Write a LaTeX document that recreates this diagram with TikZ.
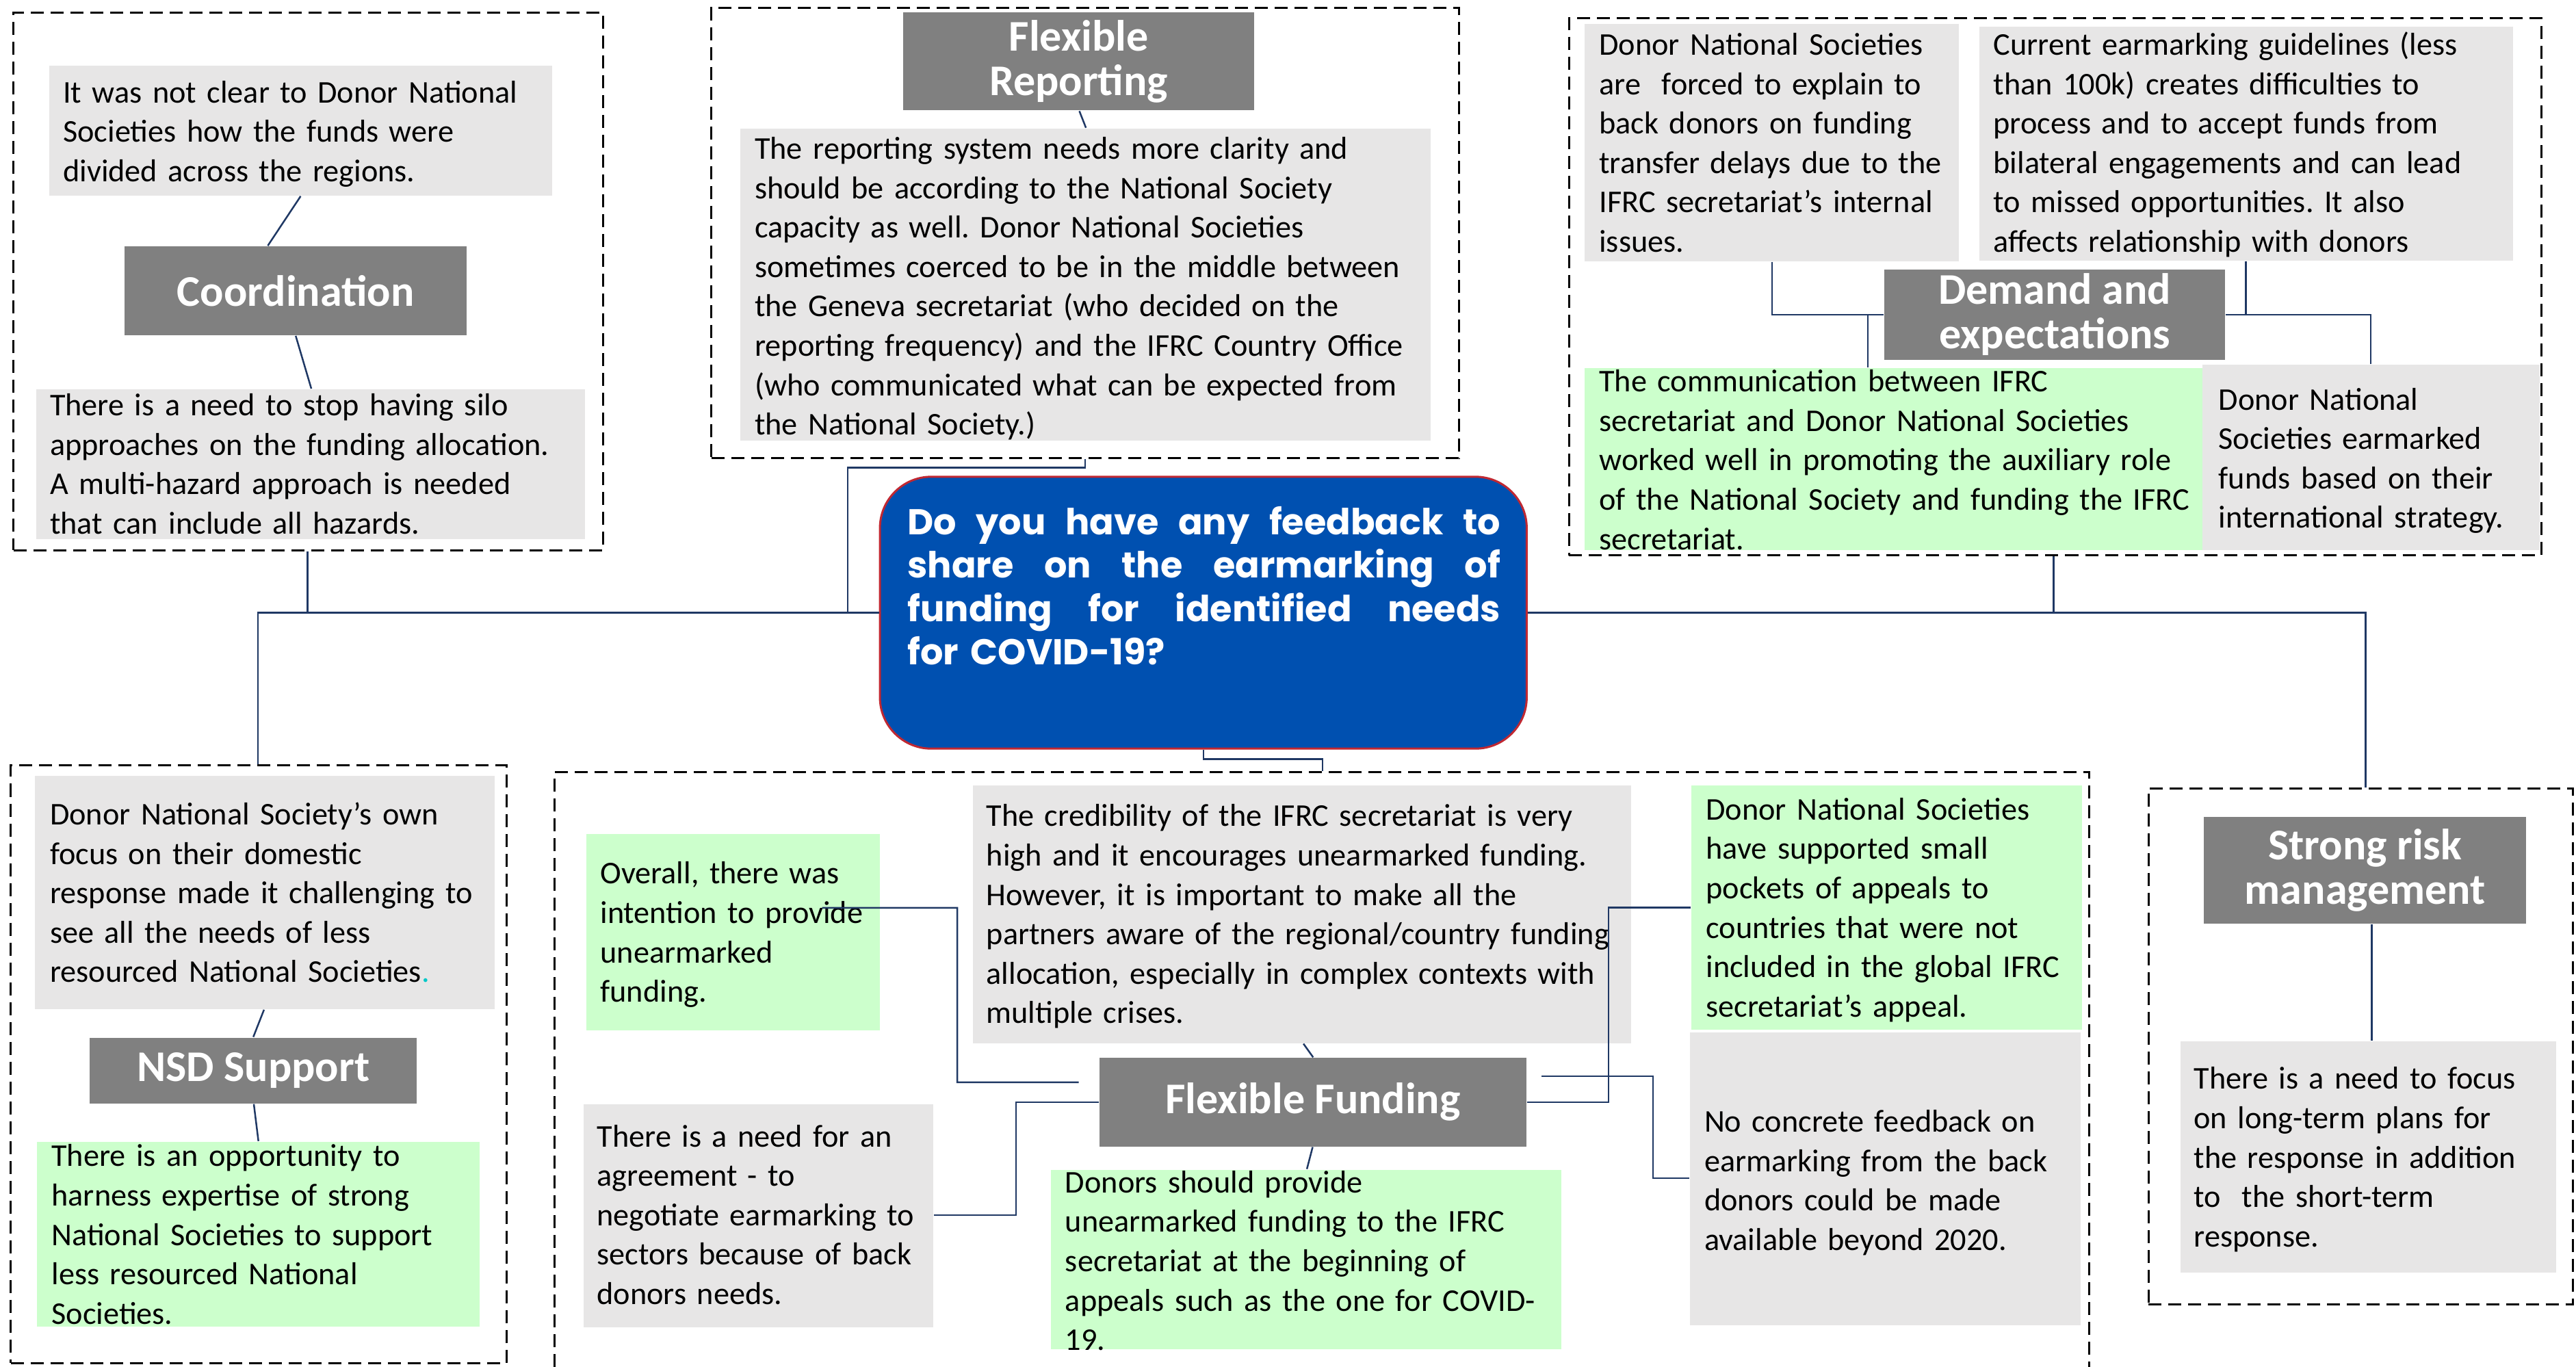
\documentclass[tikz,border=0pt]{standalone}
\usepackage{fontspec}
\setmainfont{Carlito}
\newfontfamily\titlefont{Poppins}
\usetikzlibrary{fit}
\definecolor{gbg}{RGB}{231,230,230}
\definecolor{grn}{RGB}{204,255,204}
\definecolor{hdr}{RGB}{128,128,128}
\definecolor{blu}{RGB}{0,80,176}
\definecolor{redb}{RGB}{192,40,50}
\definecolor{navy}{RGB}{31,56,100}
\definecolor{cyn}{RGB}{0,200,200}
\frenchspacing
\newcommand\bodyfont{\fontsize{9.25pt}{11.52pt}\selectfont\frenchspacing}
\newcommand\hdfont{\fontsize{12.8pt}{12.96pt}\selectfont\bfseries}
\newcommand\ttlfont{\titlefont\bfseries\fontsize{10.5pt}{12.62pt}\selectfont}
\newcommand\tl[1]{\leavevmode\hbox to 173.28pt{\spaceskip=0.25em plus 1fil\relax #1}}
\begin{document}
\begin{tikzpicture}[x=0.48pt,y=-0.48pt,
  grp/.style={draw=black,line width=0.6pt,dash pattern=on 3.8pt off 2pt},
  gbox/.style={fill=gbg,draw=none,inner sep=0pt},
  gnbox/.style={fill=grn,draw=none,inner sep=0pt},
  hbox/.style={fill=hdr,draw=none,inner sep=0pt},
  htxt/.style={inner sep=0pt,text=white,font=\hdfont,align=center},
  txt/.style={inner sep=0pt,font=\bodyfont,text width=230pt,align=left,anchor=base west},
  conn/.style={draw=navy,line width=0.5pt}]
\useasboundingbox (0,0) rectangle (1568,831.7);
\fill[white] (0,0) rectangle (1568,831.7);

% ---------- dashed groups
\node[grp,fit={(8.2,7.7) (367.3,335)},inner sep=0pt] (dC) {};
\node[grp,fit={(433,4.6) (888,279)},inner sep=0pt] (dR) {};
\node[grp,fit={(955,10.9) (1547,338)},inner sep=0pt] (dD) {};
\node[grp,fit={(6.5,466) (308.5,829.7)},inner sep=0pt] (dN) {};
\node[grp,fit={(337.5,469.8) (1271.6,845)},inner sep=0pt] (dF) {};
\node[grp,fit={(1307.8,479.8) (1566,793.9)},inner sep=0pt] (dS) {};

% ---------- Coordination
\node[gbox,fit={(30,40) (336,119)}] (cA) {};
\node[txt] (cAt) at (38,62.5) {It was not clear to Donor National\\Societies how the funds were\\divided across the regions.};
\node[hbox,fit={(76,150) (284,204)}] (cH) {};
\node[htxt] (cHt) at (cH.center) {Coordination};
\node[gbox,fit={(22,237) (356,328)}] (cB) {};
\node[txt] (cBt) at (30,253) {There is a need to stop having silo\\approaches on the funding allocation.\\A multi-hazard approach is needed\\that can include all hazards.};

% ---------- Flexible Reporting
\node[hbox,fit={(549.8,7.6) (763.4,67.2)}] (rH) {};
\node[htxt] (rHt) at (rH.center) {Flexible\\Reporting};
\node[gbox,fit={(450.6,78.2) (871,268)}] (rT) {};
\node[txt] (rTt) at (459,96.8) {The reporting system needs more clarity and\\should be according to the National Society\\capacity as well. Donor National Societies\\sometimes coerced to be in the middle between\\the Geneva secretariat (who decided on the\\reporting frequency) and the IFRC Country Office\\(who communicated what can be expected from\\the National Society.)};

% ---------- Demand and expectations
\node[gbox,fit={(964.6,14.6) (1192.4,159)}] (dA) {};
\node[txt] (dAt) at (973,33.5) {Donor National Societies\\are\ \ forced to explain to\\back donors on funding\\transfer delays due to the\\IFRC secretariat’s internal\\issues.};
\node[gbox,fit={(1204.7,16.4) (1529.8,158.5)}] (dB) {};
\node[txt] (dBt) at (1213,33.5) {Current earmarking guidelines (less\\than 100k) creates difficulties to\\process and to accept funds from\\bilateral engagements and can lead\\to missed opportunities. It also\\affects relationship with donors};
\node[hbox,fit={(1147,164) (1354.5,219)}] (dH) {};
\node[htxt] (dHt) at (dH.center) {Demand and\\expectations};
\node[gnbox,fit={(964.6,224) (1340.7,335)}] (dG) {};
\node[txt] (dGt) at (973,238.5) {The communication between IFRC\\secretariat and Donor National Societies\\worked well in promoting the auxiliary role\\of the National Society and funding the IFRC\\secretariat.};
\node[gbox,fit={(1340.7,222) (1545.7,335)}] (dE) {};
\node[txt] (dEt) at (1350,249.5) {Donor National\\Societies earmarked\\funds based on their\\international strategy.};

% ---------- Central question
\node[fill=blu,draw=redb,line width=0.6pt,rounded corners=15pt,inner sep=0pt,fit={(535.6,290.2) (929.3,455.7)}] (cen) {};
\node[inner sep=0pt,anchor=base west,text=white,font=\ttlfont,text width=173.28pt,align=left] (cenT) at (552,325.6)
 {\tl{Do you have any feedback to}\\\tl{share on the earmarking of}\\\tl{funding for identified needs}\\for COVID-19?};

% ---------- NSD Support
\node[gbox,fit={(21.3,472.4) (301.3,614.2)}] (nA) {};
\node[txt] (nAt) at (30,502) {Donor National Society’s own\\focus on their domestic\\response made it challenging to\\see all the needs of less\\resourced National Societies{\color{cyn}.}};
\node[hbox,fit={(54.5,631.6) (253.8,671.6)}] (nH) {};
\node[htxt] (nHt) at (nH.center) {NSD Support};
\node[gnbox,fit={(22.4,695) (291.9,807.6)}] (nB) {};
\node[txt] (nBt) at (31,710) {There is an opportunity to\\harness expertise of strong\\National Societies to support\\less resourced National\\Societies.};

% ---------- Flexible Funding
\node[gnbox,fit={(357,507.6) (535.6,627.4)}] (fO) {};
\node[txt] (fOt) at (365,538) {Overall, there was\\intention to provide\\unearmarked\\funding.};
\node[gbox,fit={(592.4,477.9) (992.8,634.9)}] (fC) {};
\node[txt] (fCt) at (600,503) {The credibility of the IFRC secretariat is very\\high and it encourages unearmarked funding.\\However, it is important to make all the\\partners aware of the regional/country funding\\allocation, especially in complex contexts with\\multiple crises.};
\node[hbox,fit={(669.4,644) (929,697.8)}] (fH) {};
\node[htxt] (fHt) at (fH.center) {Flexible Funding};
\node[gbox,fit={(355.3,672) (568.2,807.8)}] (fA) {};
\node[txt] (fAt) at (363,698) {There is a need for an\\agreement - to\\negotiate earmarking to\\sectors because of back\\donors needs.};
\node[gnbox,fit={(639.6,712) (950.3,821.3)}] (fD) {};
\node[txt] (fDt) at (648,726) {Donors should provide\\unearmarked funding to the IFRC\\secretariat at the beginning of\\appeals such as the one for COVID-\\19.};
\node[gnbox,fit={(1029.5,477.9) (1267.4,626.9)}] (fN) {};
\node[txt] (fNt) at (1038,499) {Donor National Societies\\have supported small\\pockets of appeals to\\countries that were not\\included in the global IFRC\\secretariat’s appeal.};
\node[gbox,fit={(1028.8,628.3) (1266.6,806.6)}] (fX) {};
\node[txt] (fXt) at (1037,689) {No concrete feedback on\\earmarking from the back\\donors could be made\\available beyond 2020.};

% ---------- Strong risk management
\node[hbox,fit={(1341.6,497.3) (1537.7,562.3)}] (sH) {};
\node[htxt] (sHt) at (sH.center) {Strong risk\\management};
\node[gbox,fit={(1327.2,633.7) (1555.8,774.5)}] (sT) {};
\node[txt] (sTt) at (1335,663) {There is a need to focus\\on long-term plans for\\the response in addition\\to\ \ the short-term\\response.};

% ---------- connectors
\draw[conn] (183,0 |- cA.south) -- (163,0 |- cH.north);
\draw[conn] (180,0 |- cH.south) -- (189.5,0 |- cB.north);
\draw[conn] (657,0 |- rH.south) -- (661,0 |- rT.north);
\draw[conn] (1078.7,0 |- dA.south) |- (dH.west);
\draw[conn] (1137,0 |- dG.north) |- (dH.west);
\draw[conn] (1367,0 |- dB.south) |- (dH.east);
\draw[conn] (1443,0 |- dE.north) |- (dH.east);
\draw[conn] (160.7,0 |- nA.south) -- (154.2,0 |- nH.north);
\draw[conn] (154.5,0 |- nH.south) -- (157.3,0 |- nB.north);
\draw[conn] (1443.6,0 |- sH.south) -- (1443.6,0 |- sT.north);
\draw[conn] (793.4,0 |- fC.south) -- (799.3,0 |- fH.north);
\draw[conn] (799,0 |- fH.south) -- (795.5,0 |- fD.north);
\draw[conn] ([xshift=-17.1pt,yshift=7.15pt]fO.east) -| (582.7,658.8) -- ([xshift=-5.95pt,yshift=5.8pt]fH.west);
\draw[conn] (fA.east |- 0,739.7) -| (618.4,0 |- fH.west) -- (fH.west);
\draw[conn] (fH.east) -| (979.2,552.4) -- (fN.west |- 0,552.4);
\draw[conn] ([xshift=4.32pt,yshift=7.54pt]fH.east) -| (1006.2,717.2) -- (fX.west |- 0,717.2);
% main trunk
\draw[conn] (157,0 |- dN.north) |- (cen.west);
\draw[conn] (187.3,0 |- dC.south) -- (187.3,0 |- cen.west);
\draw[conn] (660.5,0 |- dR.south) -- (660.5,284.7) -| (516,0 |- cen.west);
\draw[conn] (cen.east) -| (1440,0 |- dS.north);
\draw[conn] (1250,0 |- dD.south) -- (1250,0 |- cen.east);
\draw[conn] (732.5,0 |- cen.south) -- (732.5,462.1) -| (805,0 |- dF.north);
\end{tikzpicture}
\end{document}
